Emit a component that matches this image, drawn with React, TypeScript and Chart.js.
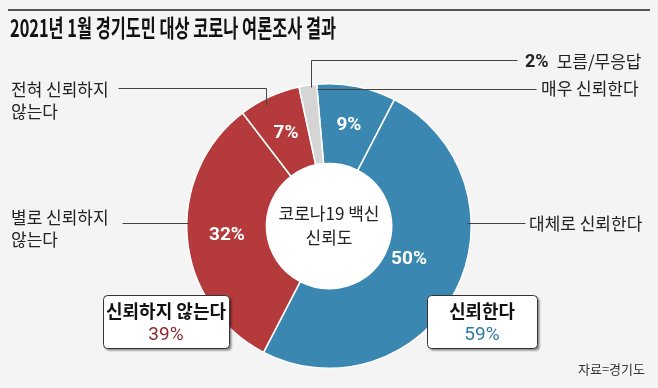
import React, { useEffect, useRef } from 'react';
import { Chart, registerables } from 'chart.js';

Chart.register(...registerables);

const categories = ['매우 신뢰한다', '대체로 신뢰한다', '별로 신뢰하지 않는다', '전혀 신뢰하지 않는다', '모름/무응답'];
const values = [9, 50, 32, 7, 2];
const sliceColors = ['#3a88b2', '#3a88b2', '#b43a3b', '#b43a3b', '#d5d5d5'];
const trustIdx = [0, 1];
const distrustIdx = [2, 3];
const groupLabels = ['신뢰하지 않는다', '신뢰한다'];
const groupColors = ['#8c2a2e', '#2f7ba3'];
const titleText = '2021년 1월 경기도민 대상 코로나 여론조사 결과';
const centerLines = ['코로나19 백신', '신뢰도'];
const sourceText = '자료=경기도';

const KR = '"Noto Sans CJK KR", "Noto Sans", sans-serif';
const NUM = 'Roboto, "Noto Sans", sans-serif';
const INK = '#222';
const LINE = '#444';

function splitLabel(c: string): string[] {
  return c.endsWith(' 않는다') ? [c.replace(' 않는다', ''), '않는다'] : [c];
}

const sum = (idx: number[]) => idx.reduce((s, i) => s + values[i], 0);

function drawFit(ctx: CanvasRenderingContext2D, text: string, x: number, y: number, w: number) {
  const m = ctx.measureText(text).width;
  const s = Math.min(1, w / m);
  ctx.save();
  ctx.translate(x, y);
  ctx.scale(s, 1);
  ctx.fillText(text, 0, 0);
  ctx.restore();
}

const decorPlugin = {
  id: 'decor',
  beforeDraw(chart: any) {
    const ctx: CanvasRenderingContext2D = chart.ctx;
    ctx.save();
    ctx.fillStyle = '#f4f4f4';
    ctx.fillRect(0, 0, chart.width, chart.height);
    ctx.fillStyle = '#555';
    ctx.fillRect(8, 9, 642, 2);
    ctx.fillStyle = '#111';
    ctx.font = `bold 24px ${KR}`;
    ctx.textBaseline = 'middle';
    ctx.textAlign = 'left';
    drawFit(ctx, titleText, 10, 28, 326);
    ctx.restore();
  },
  beforeDatasetsDraw(chart: any) {
    const ctx: CanvasRenderingContext2D = chart.ctx;
    const a = chart.getDatasetMeta(0).data[0];
    if (!a) return;
    ctx.save();
    ctx.fillStyle = '#ffffff';
    ctx.beginPath();
    ctx.arc(a.x, a.y, a.innerRadius, 0, Math.PI * 2);
    ctx.fill();
    ctx.restore();
  },
  afterDatasetsDraw(chart: any) {
    const ctx: CanvasRenderingContext2D = chart.ctx;
    const arcs = chart.getDatasetMeta(0).data;
    const cx = arcs[0].x;
    const cy = arcs[0].y;
    const R = arcs[0].outerRadius;
    const edgeX = (y: number) => Math.sqrt(Math.max(0, R * R - (y - cy) * (y - cy)));
    ctx.save();
    ctx.strokeStyle = LINE;
    ctx.lineWidth = 1;
    ctx.fillStyle = INK;
    ctx.textBaseline = 'middle';

    const seg = (pts: number[][]) => {
      ctx.beginPath();
      ctx.moveTo(Math.round(pts[0][0]) + 0.5, Math.round(pts[0][1]) + 0.5);
      for (let i = 1; i < pts.length; i++) ctx.lineTo(Math.round(pts[i][0]) + 0.5, Math.round(pts[i][1]) + 0.5);
      ctx.stroke();
    };
    const label = (lines: string[], x: number, y: number, gap = 22) => {
      ctx.font = `17px ${KR}`;
      ctx.textAlign = 'left';
      lines.forEach((l, k) => drawFit(ctx, l, x, y + k * gap, l.length * 16.6));
    };

    // index 4: 모름/무응답
    {
      const a = arcs[4];
      const m = (a.startAngle + a.endAngle) / 2;
      const px = cx + R * Math.cos(m) + 3;
      const py = cy + (R - 2) * Math.sin(m);
      seg([[px, py], [px, 60], [517, 60]]);
      ctx.font = `bold 18px ${NUM}`;
      ctx.textAlign = 'left';
      const pct = `${values[4]}%`;
      ctx.fillText(pct, 525, 62);
      const w = ctx.measureText(pct).width;
      label([categories[4]], 525 + w + 8, 62);
    }
    // index 0: 매우 신뢰한다
    {
      const a = arcs[0];
      const y = 89;
      const t = (y - cy) / Math.sin(a.startAngle);
      const sx = cx + t * Math.cos(a.startAngle);
      seg([[sx, y], [536, y]]);
      label(splitLabel(categories[0]), 541, 89);
    }
    // index 1: 대체로 신뢰한다
    {
      const y = 223;
      seg([[cx + edgeX(y) - 4, y], [525, y]]);
      label(splitLabel(categories[1]), 529, 224);
    }
    // index 2: 별로 신뢰하지 않는다
    {
      const y = 223;
      seg([[122, y], [cx - edgeX(y) + 2, y]]);
      label(splitLabel(categories[2]), 11, 218);
    }
    // index 3: 전혀 신뢰하지 않는다
    {
      const a = arcs[3];
      const m = (a.startAngle + a.endAngle) / 2;
      const px = cx + R * Math.cos(m) - 3;
      const topEdge = cy - Math.sqrt(Math.max(0, R * R - (px - cx) * (px - cx)));
      seg([[118, 88], [px, 88], [px, topEdge + 7]]);
      label(splitLabel(categories[3]), 11, 90);
    }

    // percentage labels on slices
    ctx.fillStyle = '#ffffff';
    ctx.font = `bold 19px ${NUM}`;
    ctx.textAlign = 'center';
    for (let i = 0; i < 4; i++) {
      const p = arcs[i].tooltipPosition(true);
      const big = values[i] >= 40;
      const k = big ? 0.88 : 1;
      ctx.fillText(`${values[i]}%`, cx + (p.x - cx) * k, cy + (p.y - cy) * k - (big ? 8 : 0));
    }

    // center text
    ctx.fillStyle = INK;
    ctx.font = `17px ${KR}`;
    ctx.fillText(centerLines[0], cx, cy - 12);
    ctx.fillText(centerLines[1], cx, cy + 12);

    // group boxes
    const boxes = [
      { x: 103, w: 126, idx: distrustIdx },
      { x: 427, w: 110, idx: trustIdx },
    ];
    boxes.forEach((b, k) => {
      const y = 295;
      const h = 53;
      ctx.save();
      ctx.shadowColor = 'rgba(0,0,0,0.45)';
      ctx.shadowOffsetX = 2;
      ctx.shadowOffsetY = 2;
      ctx.shadowBlur = 2;
      ctx.fillStyle = '#ffffff';
      ctx.beginPath();
      (ctx as any).roundRect(b.x + 0.5, y + 0.5, b.w, h, 4);
      ctx.fill();
      ctx.restore();
      ctx.strokeStyle = '#333';
      ctx.beginPath();
      (ctx as any).roundRect(b.x + 0.5, y + 0.5, b.w, h, 4);
      ctx.stroke();
      const mx = b.x + b.w / 2;
      ctx.fillStyle = '#111';
      ctx.font = `bold 18px ${KR}`;
      ctx.textAlign = 'center';
      const tw = ctx.measureText(groupLabels[k]).width;
      const maxW = groupLabels[k].length * 16.4;
      if (tw > maxW) {
        ctx.save();
        ctx.translate(mx, 311);
        ctx.scale(maxW / tw, 1);
        ctx.fillText(groupLabels[k], 0, 0);
        ctx.restore();
      } else {
        ctx.fillText(groupLabels[k], mx, 311);
      }
      ctx.fillStyle = groupColors[k];
      ctx.font = `19px ${NUM}`;
      ctx.fillText(`${sum(b.idx)}%`, mx, 335);
    });

    // source
    ctx.fillStyle = '#333';
    ctx.font = `13px ${KR}`;
    ctx.textAlign = 'right';
    ctx.fillText(sourceText, 645, 369);
    ctx.restore();
  },
};

export default function App() {
  const ref = useRef<HTMLCanvasElement | null>(null);
  useEffect(() => {
    if (!ref.current) return;
    const chart = new Chart(ref.current, {
      type: 'doughnut',
      data: {
        labels: categories,
        datasets: [
          {
            data: values,
            backgroundColor: sliceColors,
            borderColor: '#ffffff',
            borderWidth: 1.5,
            hoverOffset: 0,
          },
        ],
      },
      options: {
        animation: false,
        responsive: false,
        devicePixelRatio: 1,
        rotation: -5,
        cutout: '44%',
        events: [],
        layout: { padding: { top: 83, bottom: 19, left: 0, right: 0 } },
        plugins: { legend: { display: false }, tooltip: { enabled: false } },
      },
      plugins: [decorPlugin],
    });
    return () => chart.destroy();
  }, []);
  return (
    <div style={{ position: 'fixed', left: 0, top: 0, width: 658, height: 388, background: '#f4f4f4' }}>
      <canvas ref={ref} width={658} height={388} style={{ display: 'block', width: 658, height: 388 }} />
    </div>
  );
}
